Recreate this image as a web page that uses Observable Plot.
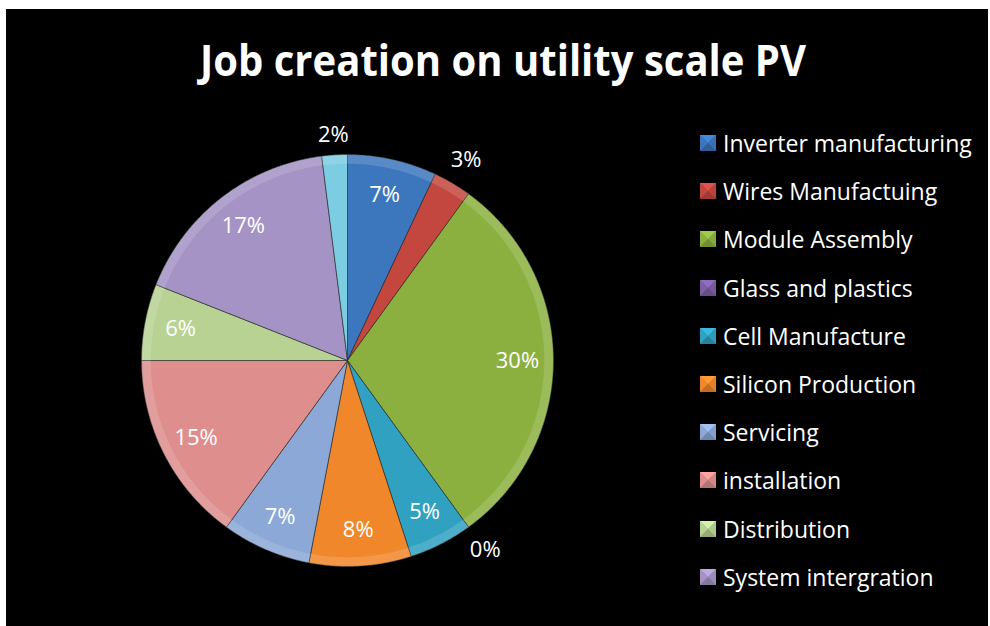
<!DOCTYPE html>
<html>
<head>
<meta charset="utf-8">
<script src="https://cdn.jsdelivr.net/npm/d3@7"></script>
<script src="https://cdn.jsdelivr.net/npm/@observablehq/plot@0.6"></script>
<style>
  html, body { margin: 0; padding: 0; background: #ffffff; }
  #frame { position: absolute; left: 6px; top: 9px; width: 982px; height: 617px; background: #000; overflow: hidden; }
  #title { position: absolute; left: 0; top: 0; }
  #chart { position: absolute; left: 0; top: 0; }
  #legend { position: absolute; left: 694px; top: 110px; font-family: "Open Sans", sans-serif; font-size: 23px; color: #fff; }
  .item { height: 48.2px; display: flex; align-items: center; white-space: nowrap; }
  .item svg { margin-right: 7px; flex: none; }
</style>
</head>
<body>
<div id="frame">
  <svg id="title" width="982" height="100">
    <text x="497" y="67" text-anchor="middle" fill="#fff" font-family="Open Sans, sans-serif" font-weight="700" font-size="43" textLength="606" lengthAdjust="spacingAndGlyphs">Job creation on utility scale PV</text>
  </svg>
  <div id="chart"></div>
  <div id="legend"></div>
</div>
<script>
// ---- data ----
const categories = [
  "Inverter manufacturing",
  "Wires Manufactuing",
  "Module Assembly",
  "Glass and plastics",
  "Cell Manufacture",
  "Silicon Production",
  "Servicing",
  "installation",
  "Distribution",
  "System intergration",
  "(unlabelled)"
];
const shares = [7, 3, 30, 0, 5, 8, 7, 15, 6, 17, 2];
const colors = [
  "#3c77bd", "#c4473f", "#8cb040", "#7d5fa6", "#31a1c2", "#f0872b",
  "#8ba8d6", "#de8e8d", "#b8d293", "#a493c4", "#7ccde2"
];
const legendCount = 10; // legend lists the first ten categories

// ---- layout ----
const W = 700, H = 617, CX = 341, CY = 351, R = 206;

const total = d3.sum(shares);
const slices = [];
let cum = 0;
shares.forEach((v, i) => {
  const a0 = cum / total * 2 * Math.PI;
  cum += v;
  const a1 = cum / total * 2 * Math.PI;
  slices.push({name: categories[i], value: v, a0, a1, mid: (a0 + a1) / 2});
});

// polygon points for each wedge (unit radius, y up)
const pts = [];
for (const s of slices) {
  if (s.value === 0) continue;
  pts.push({name: s.name, x: 0, y: 0});
  const n = Math.max(2, Math.ceil((s.a1 - s.a0) / (Math.PI / 360)));
  for (let k = 0; k <= n; k++) {
    const a = s.a0 + (s.a1 - s.a0) * k / n;
    pts.push({name: s.name, x: Math.sin(a), y: Math.cos(a)});
  }
  pts.push({name: s.name, x: 0, y: 0});
}

// rim highlight band (outer bevel)
const rim = [];
for (const s of slices) {
  if (s.value === 0) continue;
  const n = Math.max(2, Math.ceil((s.a1 - s.a0) / (Math.PI / 360)));
  const inner = 0.955;
  for (let k = 0; k <= n; k++) {
    const a = s.a0 + (s.a1 - s.a0) * k / n;
    rim.push({name: s.name, x: Math.sin(a), y: Math.cos(a)});
  }
  for (let k = n; k >= 0; k--) {
    const a = s.a0 + (s.a1 - s.a0) * k / n;
    rim.push({name: s.name, x: inner * Math.sin(a), y: inner * Math.cos(a)});
  }
}

const labels = slices.map(s => {
  const r = s.value < 4 ? 1.09 + 0.08 * Math.abs(Math.sin(s.mid)) : 0.825;
  return {text: s.value + "%", x: r * Math.sin(s.mid), y: r * Math.cos(s.mid)};
});

const plot = Plot.plot({
  width: W,
  height: H,
  margin: 0,
  style: {background: "transparent", overflow: "visible"},
  x: {domain: [-CX / R, (W - CX) / R], axis: null},
  y: {domain: [-(H - CY) / R, CY / R], axis: null},
  color: {domain: categories, range: colors},
  marks: [
    Plot.line(pts, {x: "x", y: "y", z: "name", fill: "name", stroke: "#2a2a2a", strokeWidth: 0.6, curve: "linear"}),
    Plot.line(rim, {x: "x", y: "y", z: "name", fill: "white", fillOpacity: 0.14, stroke: "none", curve: "linear"}),
    Plot.text(labels, {x: "x", y: "y", text: "text", fill: "white", fontSize: 22, fontFamily: "Open Sans, sans-serif"})
  ]
});
document.getElementById("chart").appendChild(plot);

// ---- legend ----
const legend = d3.select("#legend");
categories.slice(0, legendCount).forEach((name, i) => {
  const c = d3.color(colors[i]);
  const item = legend.append("div").attr("class", "item");
  const svg = item.append("svg").attr("width", 16).attr("height", 16);
  svg.append("rect").attr("width", 16).attr("height", 16).attr("fill", c.darker(0.3));
  svg.append("path").attr("d", "M0,0L16,0L8,8Z").attr("fill", c.brighter(0.4));
  svg.append("path").attr("d", "M0,0L8,8L0,16Z").attr("fill", c.formatHex());
  svg.append("path").attr("d", "M16,0L8,8L16,16Z").attr("fill", c.darker(0.15));
  svg.append("path").attr("d", "M0,16L8,8L16,16Z").attr("fill", c.darker(0.6));
  item.append("span").text(name);
});
</script>
</body>
</html>
